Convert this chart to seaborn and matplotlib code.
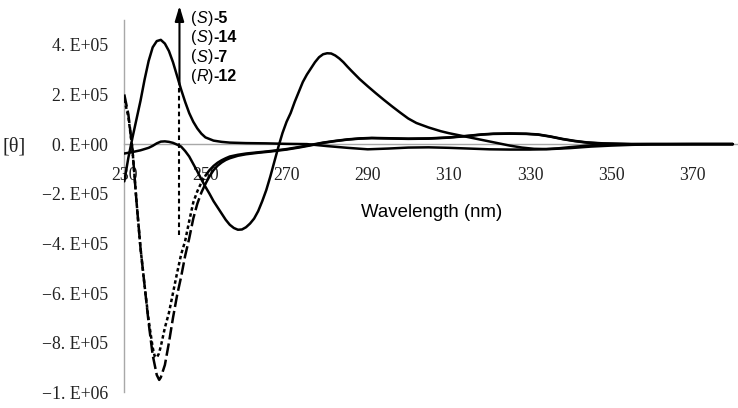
import numpy as np
import pandas as pd
import matplotlib
matplotlib.use("Agg")
import matplotlib.pyplot as plt
import seaborn as sns

# ---------------- data (values in units of 1e5) ----------------
wl_a = [230, 231, 232, 233, 234, 235, 236, 237, 238, 239, 240, 241, 242, 243, 244, 245, 246, 247, 248, 249,
        250, 252, 254, 256, 260, 265, 270, 275, 280, 285, 290, 295, 300, 305, 310, 315, 320, 325, 330, 335,
        340, 345, 350, 355, 360, 370, 380]
val_a = [-1.5, -0.55, 0.25, 1.0, 1.75, 2.6, 3.35, 3.9, 4.15, 4.2, 4.05, 3.75, 3.3, 2.75, 2.2, 1.7, 1.25, 0.9, 0.63, 0.42,
         0.27, 0.14, 0.09, 0.06, 0.04, 0.03, 0.01, 0.0, -0.08, -0.15, -0.21, -0.18, -0.14, -0.13, -0.15, -0.18, -0.21, -0.22, -0.22, -0.2,
         -0.16, -0.1, -0.06, -0.03, -0.01, 0.0, 0.0]

wl_b = [230, 232, 234, 236, 237, 238, 239, 240, 241, 242, 243, 244, 245, 246, 247, 248, 249, 250, 251, 252,
        253, 254, 255, 256, 257, 258, 259, 260, 261, 262, 263, 264, 265, 266, 267, 268, 269, 270, 271, 272,
        273, 274, 275, 276, 277, 278, 279, 280, 281, 282, 283, 284, 285, 286, 288, 290, 292, 294, 296, 298,
        300, 302, 305, 308, 310, 313, 316, 319, 322, 325, 328, 331, 334, 337, 340, 345, 350, 360, 370, 380]
val_b = [-0.38, -0.32, -0.25, -0.15, -0.07, 0.03, 0.1, 0.11, 0.09, 0.05, -0.02, -0.1, -0.28, -0.5, -0.8, -1.1, -1.42, -1.72, -2.0, -2.3,
         -2.55, -2.8, -3.05, -3.25, -3.38, -3.45, -3.44, -3.35, -3.2, -3.0, -2.7, -2.3, -1.85, -1.3, -0.7, -0.1, 0.45, 0.9, 1.25, 1.7,
         2.1, 2.5, 2.8, 3.05, 3.3, 3.5, 3.62, 3.66, 3.65, 3.57, 3.45, 3.3, 3.12, 2.95, 2.62, 2.33, 2.05, 1.78, 1.52, 1.27,
         1.03, 0.85, 0.67, 0.52, 0.44, 0.34, 0.24, 0.14, 0.04, -0.06, -0.14, -0.19, -0.2, -0.17, -0.12, -0.05, -0.01, 0.0, 0.0, 0.0]

wl_c = [230, 231, 232, 233, 234, 235, 236, 237, 238, 238.6, 239, 240, 241, 242, 243, 244, 245, 246, 247, 248,
        249, 250, 251, 252, 253, 254, 255, 256, 258, 260, 263, 266, 270, 273, 276, 279, 282, 285, 288, 291,
        294, 297, 300, 305, 310, 315, 318, 321, 325, 329, 332, 335, 338, 341, 344, 348, 355, 370, 380]
val_c = [2.0, 1.2, -0.2, -2.3, -4.2, -5.7, -7.2, -8.5, -9.3, -9.5, -9.4, -8.9, -8.0, -7.0, -6.1, -5.35, -4.5, -3.8, -3.0, -2.4,
         -1.95, -1.6, -1.3, -1.05, -0.87, -0.74, -0.64, -0.57, -0.47, -0.41, -0.35, -0.3, -0.22, -0.14, -0.05, 0.05, 0.12, 0.18, 0.22, 0.24,
         0.23, 0.22, 0.21, 0.22, 0.26, 0.33, 0.38, 0.41, 0.42, 0.41, 0.38, 0.3, 0.2, 0.12, 0.06, 0.02, 0.0, 0.0, 0.0]

wl_d = [230, 231, 232, 233, 234, 235, 236, 237, 237.5, 238, 238.5, 239, 240, 241, 242, 243, 244, 245, 246, 247,
        248, 249, 250, 251, 252, 253, 254, 255, 256, 258, 260, 263, 266, 270, 273, 276, 279, 282, 285, 288,
        291, 294, 297, 300, 305, 310, 315, 318, 321, 325, 329, 332, 335, 338, 341, 344, 348, 355, 370, 380]
val_d = [1.8, 1.1, -0.2, -2.3, -4.2, -5.7, -7.1, -8.2, -8.55, -8.6, -8.45, -8.15, -7.4, -6.8, -6.0, -5.2, -4.45, -3.9, -3.1, -2.35,
         -1.9, -1.55, -1.27, -1.05, -0.88, -0.75, -0.65, -0.57, -0.5, -0.43, -0.38, -0.33, -0.28, -0.2, -0.12, -0.03, 0.06, 0.13, 0.19, 0.23,
         0.25, 0.24, 0.23, 0.22, 0.23, 0.27, 0.34, 0.39, 0.42, 0.43, 0.42, 0.39, 0.31, 0.21, 0.13, 0.07, 0.03, 0.0, 0.0, 0.0]

scale = 1e5
label_parts = [[("(", "normal", "normal"), ("S", "italic", "normal"), (")", "normal", "normal"), ("-5", "normal", "bold")],
               [("(", "normal", "normal"), ("S", "italic", "normal"), (")", "normal", "normal"), ("-14", "normal", "bold")],
               [("(", "normal", "normal"), ("S", "italic", "normal"), (")", "normal", "normal"), ("-7", "normal", "bold")],
               [("(", "normal", "normal"), ("R", "italic", "normal"), (")", "normal", "normal"), ("-12", "normal", "bold")]]

arrow_wl = 243.6
arrow_dash = [-3.66, 2.4]
arrow_solid = [2.4, 5.57]

xticks = [230, 250, 270, 290, 310, 330, 350, 370]
yticks = [-10, -8, -6, -4, -2, 0, 2, 4]
ytick_labels = ["\u22121. E+06", "\u22128. E+05", "\u22126. E+05", "\u22124. E+05", "\u22122. E+05",
                "0. E+00", "2. E+05", "4. E+05"]

# ---------------- figure ----------------
sns.set_style("white")
plt.rcParams["font.family"] = ["Liberation Sans", "DejaVu Sans"]

W, H = 738, 408
fig = plt.figure(figsize=(W / 100, H / 100), dpi=100)
ax = fig.add_axes([124.3 / W, (H - 392.3) / H, 1 - 124.3 / W, (392.3 - 20) / H])

SPLIT = 250  # steep part drawn with the broken pattern, flat tail looks solid
series = [(wl_a, val_a, "-"), (wl_b, val_b, "-"),
          (wl_c, val_c, (0, (5, 1.6))), (wl_d, val_d, (0, (1.4, 1.1)))]
for wl, vals, ls in series:
    df = pd.DataFrame({"wl": wl, "theta": np.array(vals) * scale})
    if ls == "-":
        sns.lineplot(data=df, x="wl", y="theta", color="black", lw=1.8,
                     estimator=None, sort=False, ax=ax)
    else:
        head = df[df["wl"] <= SPLIT]
        tail = df[df["wl"] >= SPLIT]
        sns.lineplot(data=head, x="wl", y="theta", color="black", lw=1.8, linestyle=ls,
                     estimator=None, sort=False, ax=ax)
        sns.lineplot(data=tail, x="wl", y="theta", color="black", lw=1.8,
                     estimator=None, sort=False, ax=ax)

ax.set_xlim(230, 230 + (W - 124.3) / 4.057)
ax.set_ylim(-1e6, 5e5)

axis_gray = "#a8a8a8"
for s in ["top", "right"]:
    ax.spines[s].set_visible(False)
ax.spines["left"].set_color(axis_gray)
ax.spines["left"].set_linewidth(1.0)
ax.spines["bottom"].set_position(("data", 0))
ax.spines["bottom"].set_color(axis_gray)
ax.spines["bottom"].set_linewidth(1.0)
ax.spines["bottom"].set_zorder(0.5)
ax.spines["left"].set_zorder(0.5)

ax.set_xticks(xticks)
ax.set_xticklabels([str(t) for t in xticks], fontfamily="Liberation Serif", fontsize=12.8, color="#222222")
ax.set_yticks([v * scale for v in yticks])
ax.set_yticklabels(ytick_labels, fontfamily="Liberation Serif", fontsize=12.8, color="#222222")
ax.tick_params(axis="x", direction="inout", length=8, width=1.0, color=axis_gray, pad=12.5)
ax.tick_params(axis="y", direction="inout", length=7, width=1.0, color=axis_gray, pad=8)
ax.set_xlabel("")
ax.set_ylabel("")

# arrow
ax.plot([arrow_wl, arrow_wl], [arrow_dash[0] * scale, arrow_dash[1] * scale], color="black",
        lw=1.5, linestyle=(0, (2.2, 1.6)))
ax.annotate("", xy=(arrow_wl, arrow_solid[1] * scale), xytext=(arrow_wl, arrow_solid[0] * scale),
            arrowprops=dict(arrowstyle="-|>,head_length=0.9,head_width=0.27", color="black", lw=1.5,
                            mutation_scale=10, shrinkA=0, shrinkB=0),
            annotation_clip=False)

# compound labels
baselines = [23, 42, 61.5, 81]
for parts, yb in zip(label_parts, baselines):
    prev = None
    for txt, style, weight in parts:
        if prev is None:
            prev = fig.text(191.5 / W, (H - yb) / H, txt, fontsize=11.5, fontstyle=style, fontweight=weight,
                            ha="left", va="baseline", color="black")
        else:
            prev = ax.annotate(txt, xy=(1, 0), xycoords=prev, ha="left", va="bottom", fontsize=11.5,
                               fontstyle=style, fontweight=weight, color="black", annotation_clip=False)

fig.text(14 / W, (H - 147) / H, "[\u03b8]", fontfamily="Liberation Serif", fontsize=14.5,
         ha="center", va="center", color="#222222")
fig.text(361 / W, (H - 216.7) / H, "Wavelength (nm)", fontsize=13.4, ha="left", va="baseline", color="black")

fig.savefig("out.png", dpi=100)
